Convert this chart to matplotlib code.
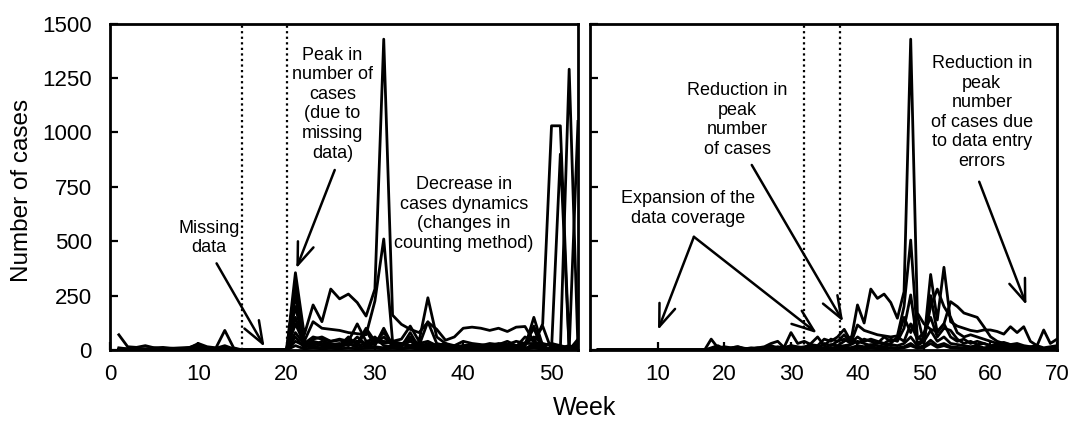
import numpy as np
import matplotlib
matplotlib.use("Agg")
import matplotlib.pyplot as plt

plt.rcParams['font.family'] = ['Liberation Sans', 'DejaVu Sans']

# ---------------- data: left panel (weeks 1..53) ----------------
left_weeks = np.arange(1, 54)
L1 = [70, 15, 12, 20, 10, 12, 8, 10, 12, 25,
      10, 8, 20, 5, 0, 0, 0, 0, 0, 0,
      355, 70, 207, 130, 280, 235, 257, 218, 156, 280,
      1428, 160, 118, 95, 80, 128, 95, 45, 60, 100,
      105, 100, 90, 100, 85, 105, 108, 40, 110, 0,
      0, 0, 20]
L2 = [10, 5, 8, 5, 10, 5, 8, 5, 10, 30,
      15, 10, 90, 10, 0, 0, 0, 0, 0, 0,
      300, 40, 130, 100, 95, 90, 80, 75, 70, 225,
      510, 40, 50, 110, 40, 240, 60, 30, 20, 40,
      30, 25, 20, 30, 25, 40, 30, 110, 10, 0,
      0, 0, 50]
L3 = [5, 5, 3, 5, 5, 2, 4, 3, 5, 10,
      5, 5, 10, 5, 0, 0, 0, 0, 0, 0,
      250, 30, 60, 50, 40, 45, 35, 40, 30, 35,
      80, 30, 25, 60, 20, 130, 30, 20, 15, 20,
      15, 20, 15, 20, 25, 20, 30, 30, 120, 1030,
      1030, 0, 1050]
L4 = [0, 2, 5, 3, 2, 5, 2, 3, 2, 5,
      3, 2, 5, 2, 0, 0, 0, 0, 0, 0,
      200, 20, 40, 30, 25, 30, 20, 60, 25, 30,
      60, 20, 20, 40, 15, 30, 20, 15, 10, 15,
      10, 15, 10, 15, 10, 20, 15, 150, 20, 0,
      0, 1290, 0]
L5 = [0, 0, 2, 0, 3, 0, 2, 0, 3, 15,
      2, 3, 8, 2, 0, 0, 0, 0, 0, 0,
      150, 15, 30, 20, 20, 25, 30, 20, 90, 20,
      100, 20, 15, 80, 10, 20, 15, 10, 8, 10,
      8, 10, 8, 10, 8, 10, 30, 100, 0, 0,
      900, 0, 30]
L6 = [2, 0, 0, 2, 0, 1, 0, 2, 0, 5,
      0, 2, 3, 0, 0, 0, 0, 0, 0, 0,
      80, 25, 20, 40, 30, 20, 50, 30, 100, 40,
      30, 40, 30, 20, 30, 20, 25, 15, 20, 10,
      20, 15, 25, 10, 20, 15, 60, 40, 20, 30,
      20, 10, 15]
L7 = [3, 2, 4, 1, 2, 3, 1, 4, 2, 8,
      3, 1, 5, 2, 0, 0, 0, 0, 0, 0,
      120, 30, 50, 60, 40, 50, 40, 120, 40, 50,
      40, 30, 20, 50, 30, 40, 20, 30, 10, 20,
      25, 20, 30, 25, 40, 20, 25, 60, 30, 20,
      10, 20, 5]
L8 = [1, 3, 2, 1, 3, 2, 3, 1, 3, 4,
      2, 3, 2, 1, 0, 0, 0, 0, 0, 0,
      60, 10, 30, 20, 15, 20, 60, 20, 30, 60,
      20, 15, 30, 20, 10, 15, 10, 5, 10, 5,
      10, 5, 10, 15, 5, 10, 5, 30, 10, 5,
      5, 10, 5]
L9 = [0, 1, 0, 2, 1, 0, 1, 0, 1, 2,
      1, 0, 2, 1, 0, 0, 0, 0, 0, 0,
      40, 20, 15, 10, 20, 10, 30, 10, 20, 15,
      10, 20, 10, 15, 5, 10, 8, 10, 5, 8,
      5, 8, 5, 10, 5, 8, 5, 20, 5, 10,
      5, 5, 10]
L10 = [0, 0, 1, 0, 0, 1, 0, 0, 1, 1,
       0, 1, 1, 0, 0, 0, 0, 0, 0, 0,
       20, 5, 10, 5, 8, 5, 10, 5, 8, 10,
       5, 8, 5, 10, 3, 5, 3, 5, 3, 5,
       3, 5, 3, 5, 3, 5, 3, 10, 3, 5,
       3, 2, 5]
left_series = [L1, L2, L3, L4, L5, L6, L7, L8, L9, L10]

# ---------------- data: right panel (weeks 1..70) ----------------
right_weeks = np.arange(1, 71)
R1 = [0, 0, 0, 0, 0, 0, 0, 0, 0, 0,
      0, 0, 0, 0, 0, 0, 0, 50, 10, 15,
      10, 15, 5, 10, 8, 10, 20, 10, 15, 80,
      30, 40, 25, 20, 50, 40, 60, 95, 40, 207,
      124, 280, 237, 257, 218, 146, 268, 1428, 170, 120,
      95, 85, 120, 222, 200, 170, 160, 150, 107, 61,
      40, 30, 25, 20, 15, 10, 8, 5, 5, 10]
R2 = [0, 0, 0, 0, 0, 0, 0, 0, 0, 0,
      0, 0, 0, 0, 0, 0, 0, 10, 20, 5,
      10, 15, 8, 5, 10, 15, 30, 40, 10, 20,
      15, 10, 30, 60, 20, 50, 40, 70, 30, 115,
      90, 80, 70, 65, 60, 65, 200, 505, 60, 40,
      347, 138, 380, 130, 110, 100, 90, 85, 92, 92,
      85, 73, 107, 80, 107, 40, 20, 92, 30, 50]
R3 = [0, 0, 0, 0, 0, 0, 0, 0, 0, 0,
      0, 0, 0, 0, 0, 0, 0, 5, 10, 8,
      5, 10, 3, 5, 10, 5, 8, 15, 10, 20,
      10, 15, 20, 10, 30, 20, 40, 50, 30, 60,
      40, 50, 40, 30, 50, 40, 100, 253, 30, 50,
      200, 280, 200, 150, 80, 60, 70, 60, 50, 40,
      30, 35, 25, 30, 20, 15, 20, 10, 15, 20]
R4 = [0, 0, 0, 0, 0, 0, 0, 0, 0, 0,
      0, 0, 0, 0, 0, 0, 0, 3, 5, 2,
      4, 3, 5, 2, 4, 6, 3, 5, 8, 10,
      5, 8, 10, 15, 10, 25, 20, 40, 60, 30,
      50, 40, 30, 60, 40, 50, 150, 80, 160, 30,
      250, 80, 120, 60, 40, 50, 30, 40, 30, 20,
      25, 20, 15, 20, 10, 15, 10, 5, 10, 5]
R5 = [0, 0, 0, 0, 0, 0, 0, 0, 0, 0,
      0, 0, 0, 0, 0, 0, 0, 2, 1, 3,
      2, 1, 2, 3, 1, 2, 3, 2, 4, 5,
      3, 5, 8, 5, 10, 8, 15, 20, 25, 40,
      30, 20, 35, 25, 30, 60, 40, 120, 50, 80,
      150, 60, 100, 90, 50, 30, 40, 25, 30, 20,
      15, 20, 10, 15, 10, 8, 10, 5, 8, 10]
R6 = [0, 0, 0, 0, 0, 0, 0, 0, 0, 0,
      0, 0, 0, 0, 0, 0, 0, 0, 2, 1,
      1, 2, 1, 1, 2, 1, 2, 1, 2, 3,
      2, 3, 5, 3, 5, 10, 8, 15, 10, 20,
      15, 25, 20, 15, 25, 20, 30, 60, 20, 40,
      90, 40, 60, 30, 25, 20, 15, 20, 10, 15,
      10, 8, 10, 5, 8, 5, 3, 5, 3, 5]
R7 = [0, 0, 0, 0, 0, 0, 0, 0, 0, 0,
      0, 0, 0, 0, 0, 0, 0, 0, 0, 1,
      0, 1, 0, 1, 1, 0, 1, 1, 2, 1,
      1, 2, 3, 2, 3, 5, 4, 8, 10, 12,
      10, 15, 10, 8, 12, 10, 15, 30, 10, 20,
      45, 20, 30, 15, 12, 10, 8, 10, 5, 8,
      5, 4, 5, 3, 4, 3, 2, 3, 2, 3]
R8 = [0, 0, 0, 0, 0, 0, 0, 0, 0, 0,
      0, 0, 0, 0, 0, 0, 0, 1, 0, 0,
      1, 0, 0, 1, 0, 0, 1, 0, 1, 1,
      0, 1, 1, 1, 2, 2, 3, 5, 5, 8,
      5, 8, 6, 5, 8, 6, 10, 20, 8, 12,
      30, 12, 20, 10, 8, 6, 5, 6, 3, 5,
      3, 2, 3, 2, 2, 2, 1, 2, 1, 2]
right_series = [R1, R2, R3, R4, R5, R6, R7, R8]

left_xticks = [0, 10, 20, 30, 40, 50]
right_xticks = [10, 20, 30, 40, 50, 60, 70]
yticks = [0, 250, 500, 750, 1000, 1250, 1500]
left_vlines = [15, 20]
right_vlines = [32, 37.4]

# ---------------- figure ----------------
W, H = 1072, 426
fig = plt.figure(figsize=(W / 100, H / 100), dpi=100)

def rect(x0, x1, y_top, y_bot):
    return [x0 / W, 1 - y_bot / H, (x1 - x0) / W, (y_bot - y_top) / H]

axL = fig.add_axes(rect(110, 578, 23.5, 350))
axR = fig.add_axes(rect(589.5, 1057, 23.5, 350))

for ax in (axL, axR):
    for s in ax.spines.values():
        s.set_linewidth(2.0)
    ax.set_ylim(0, 1500)
    ax.set_yticks(yticks)
    ax.tick_params(direction='in', length=6, width=1.6, labelsize=16)
    ax.tick_params(axis='y', pad=13)
    ax.tick_params(axis='x', pad=10)

axL.set_xlim(0, 53)
axL.set_xticks(left_xticks)
axR.set_xlim(-0.3, 70)
axR.set_xticks(right_xticks)
axR.tick_params(labelleft=False)

for s in left_series:
    axL.plot(left_weeks, s, color='black', lw=2.0)
for s in right_series:
    axR.plot(right_weeks, s, color='black', lw=2.0)

for v in left_vlines:
    axL.axvline(v, color='black', lw=1.6, ls=(0, (1, 1.5)))
for v in right_vlines:
    axR.axvline(v, color='black', lw=1.6, ls=(0, (1, 1.5)))

fs = 13
arrow = dict(arrowstyle='->,head_length=0.8,head_width=0.3', lw=1.8,
             color='black', shrinkA=0, shrinkB=0, mutation_scale=20)

def note(ax, txt, xy):
    ax.text(xy[0], xy[1], txt, ha='center', va='center', multialignment='center',
            fontsize=fs)

def arr(ax, tail, tip):
    ax.annotate('', xy=tip, xytext=tail, arrowprops=arrow)

note(axL, "Missing\ndata", (11.2, 514))
arr(axL, (12.07, 398), (17.5, 15))
note(axL, "Peak in\nnumber of\ncases\n(due to\nmissing\ndata)", (25.2, 1130))
arr(axL, (25.45, 827), (21.1, 375))
note(axL, "Decrease in\ncases dynamics\n(changes in\ncounting method)", (40.05, 625))

note(axR, "Expansion of the\ndata coverage", (14.5, 651))
arr(axR, (15.4, 520), (10.0, 92))
arr(axR, (15.4, 520), (33.9, 77))
note(axR, "Reduction in\npeak\nnumber\nof cases", (21.9, 1057))
arr(axR, (24.1, 850), (37.85, 130))
note(axR, "Reduction in\npeak\nnumber\nof cases due\nto data entry\nerrors", (58.7, 1091))
arr(axR, (58.3, 773), (65.4, 207))

fig.text(22 / W, 1 - 190 / H, "Number of cases", rotation=90, ha='center',
         va='center', fontsize=17.5)
fig.text(585 / W, 1 - 415 / H, "Week", ha='center', va='baseline', fontsize=18)

fig.savefig("out.png", dpi=100)
